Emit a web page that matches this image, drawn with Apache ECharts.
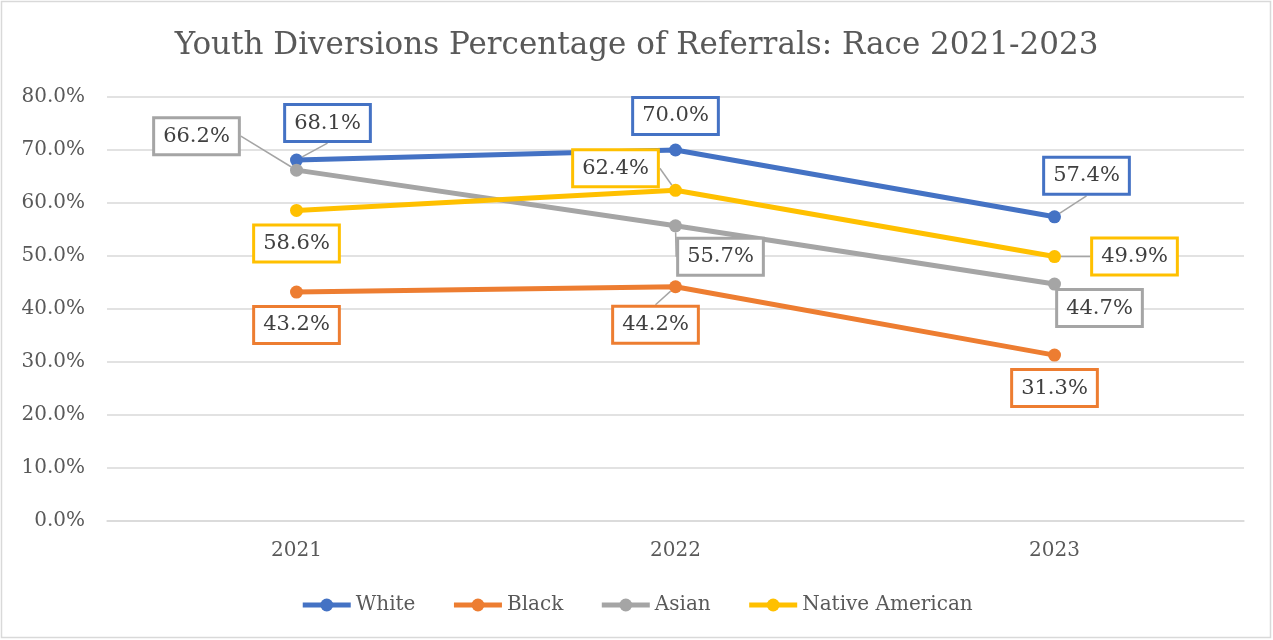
<!DOCTYPE html>
<html>
<head>
<meta charset="utf-8">
<script src="https://cdn.jsdelivr.net/npm/echarts@6/dist/echarts.min.js"></script>
<style>
  html, body { margin: 0; padding: 0; background: #fff; }
  #main { width: 1273px; height: 640px; }
</style>
</head>
<body>
<div id="main"></div>
<script>
  var years = ['2021', '2022', '2023'];
  var white = [68.1, 70.0, 57.4];
  var black = [43.2, 44.2, 31.3];
  var asian = [66.2, 55.7, 44.7];
  var nativeAmerican = [58.6, 62.4, 49.9];

  // label offsets from each point (layout only)
  var whiteOffsets = [[31, -37], [0, -34], [32, -41]];
  var blackOffsets = [[0, 33], [-20, 38], [0, 33]];
  var asianOffsets = [[-100, -34], [45, 31], [45, 24]];
  var nativeOffsets = [[0, 33], [-60, -22], [80, 0]];
  var whiteLeader = [true, false, true];
  var blackLeader = [false, true, false];
  var asianLeader = [true, true, false];
  var nativeLeader = [false, true, true];

  var font = "'DejaVu Serif', serif";

  function makeSeries(name, values, offsets, leaders, color) {
    return {
      name: name,
      type: 'line',
      symbol: 'circle',
      symbolSize: 13,
      showAllSymbol: true,
      lineStyle: { width: 5, color: color },
      itemStyle: { color: color },
      data: values.map(function (v, i) {
        return { value: v, labelLine: { show: leaders[i] } };
      }),
      label: {
        show: true,
        position: 'inside',
        formatter: function (p) { return p.value.toFixed(1) + '%'; },
        fontFamily: font,
        fontSize: 21,
        color: '#404040',
        backgroundColor: '#fff',
        borderColor: color,
        borderWidth: 3,
        padding: [7, 8, 6, 8]
      },
      labelLine: {
        show: true,
        lineStyle: { color: '#a5a5a5', width: 1.5 }
      },
      labelLayout: function (p) {
        var o = offsets[p.dataIndex];
        return { dx: o[0], dy: o[1] };
      },
      z: 2
    };
  }

  var chart = echarts.init(document.getElementById('main'));
  chart.setOption({
    animation: false,
    color: ['#4472C4', '#ED7D31', '#A5A5A5', '#FFC000'],
    title: {
      text: 'Youth Diversions Percentage of Referrals: Race 2021-2023',
      left: 'center',
      top: 25,
      textStyle: { fontFamily: font, fontSize: 31, fontWeight: 'normal', color: '#595959' }
    },
    graphic: [{
      type: 'rect',
      shape: { x: 1.5, y: 1.5, width: 1269, height: 636 },
      style: { fill: 'none', stroke: '#d9d9d9', lineWidth: 1.5 },
      silent: true
    }],
    grid: { left: 107, right: 29, top: 97, bottom: 119 },
    legend: {
      bottom: 20,
      left: 'center',
      itemWidth: 48,
      itemHeight: 16,
      itemGap: 36,
      lineStyle: { width: 5 },
      textStyle: { fontFamily: font, fontSize: 20, color: '#595959' },
      data: ['White', 'Black', 'Asian', 'Native American']
    },
    xAxis: {
      type: 'category',
      data: years,
      axisTick: { show: false },
      axisLine: { lineStyle: { color: '#d9d9d9', width: 1.5 } },
      axisLabel: { fontFamily: font, fontSize: 20, color: '#595959', margin: 20 }
    },
    yAxis: {
      type: 'value',
      min: 0,
      max: 80,
      interval: 10,
      axisLine: { show: false },
      axisTick: { show: false },
      splitLine: { lineStyle: { color: '#d9d9d9', width: 1.5 } },
      axisLabel: {
        fontFamily: font, fontSize: 20, color: '#595959', margin: 22,
        formatter: function (v) { return v.toFixed(1) + '%'; }
      }
    },
    series: [
      makeSeries('White', white, whiteOffsets, whiteLeader, '#4472C4'),
      makeSeries('Black', black, blackOffsets, blackLeader, '#ED7D31'),
      makeSeries('Asian', asian, asianOffsets, asianLeader, '#A5A5A5'),
      makeSeries('Native American', nativeAmerican, nativeOffsets, nativeLeader, '#FFC000')
    ]
  });
</script>
</body>
</html>
